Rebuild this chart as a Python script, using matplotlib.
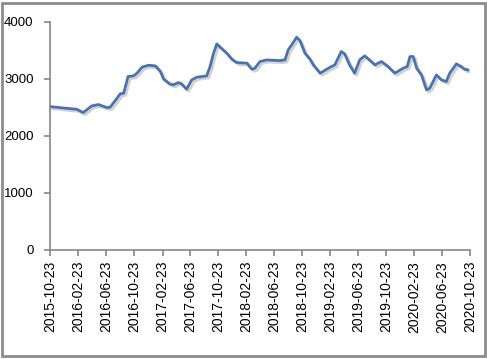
import pandas as pd
import matplotlib.pyplot as plt
import matplotlib.dates as mdates
import matplotlib.patheffects as pe
from matplotlib.patches import Rectangle

# values
dates = ["2015-10-23", "2015-12-27", "2016-02-15", "2016-03-15", "2016-04-21",
         "2016-05-20", "2016-06-26", "2016-07-10", "2016-08-09", "2016-08-23",
         "2016-09-07", "2016-09-26", "2016-10-20", "2016-11-04", "2016-11-26",
         "2016-12-24", "2017-01-23", "2017-02-14", "2017-02-28", "2017-03-27",
         "2017-04-10", "2017-05-03", "2017-05-17", "2017-06-08", "2017-06-30",
         "2017-07-22", "2017-09-03", "2017-09-18", "2017-10-03", "2017-10-17",
         "2017-11-01", "2017-11-30", "2017-12-22", "2018-01-12", "2018-02-26",
         "2018-03-18", "2018-04-01", "2018-04-23", "2018-05-22", "2018-07-19",
         "2018-08-10", "2018-08-24", "2018-09-08", "2018-09-30", "2018-10-14",
         "2018-11-05", "2018-11-27", "2018-12-11", "2019-01-10", "2019-02-08",
         "2019-02-23", "2019-03-15", "2019-04-12", "2019-04-27", "2019-05-18",
         "2019-06-09", "2019-07-01", "2019-07-23", "2019-08-21", "2019-09-05",
         "2019-10-04", "2019-11-02", "2019-12-01", "2020-01-06", "2020-01-24",
         "2020-02-05", "2020-02-19", "2020-03-05", "2020-03-26", "2020-04-17",
         "2020-05-01", "2020-05-30", "2020-06-21", "2020-07-12", "2020-07-27",
         "2020-08-25", "2020-09-15", "2020-09-30", "2020-10-14"]
values = [2514, 2486, 2468, 2409, 2526,
          2550, 2497, 2503, 2661, 2737,
          2749, 3041, 3053, 3100, 3205,
          3240, 3228, 3128, 2995, 2912,
          2895, 2935, 2912, 2819, 2982,
          3029, 3053, 3216, 3450, 3614,
          3556, 3450, 3345, 3287, 3275,
          3170, 3187, 3304, 3333, 3321,
          3333, 3509, 3596, 3731, 3672,
          3450, 3345, 3246, 3100, 3170,
          3205, 3246, 3480, 3439, 3246,
          3100, 3333, 3404, 3304, 3246,
          3304, 3216, 3100, 3187, 3216,
          3392, 3392, 3187, 3070, 2807,
          2836, 3070, 2982, 2953, 3100,
          3263, 3216, 3170, 3158]
tick_dates = pd.date_range("2015-10-23", "2020-10-23", freq=pd.DateOffset(months=4))
y_ticks = [0, 1000, 2000, 3000, 4000]

plt.rcParams['font.family'] = ['Liberation Sans', 'DejaVu Sans']

fig = plt.figure(figsize=(4.87, 3.59), dpi=100)
ax = fig.add_axes([0.103, 0.304, 0.862, 0.635])

ax.plot(pd.to_datetime(dates), values, color="#4a72b0", linewidth=2,
        path_effects=[pe.SimpleLineShadow(offset=(1.5, -1.5), shadow_color="gray", alpha=0.35),
                      pe.Normal()])

ax.set_xlim(pd.Timestamp("2015-10-23"), pd.Timestamp("2020-10-23"))
ax.set_ylim(0, 4000)
ax.set_yticks(y_ticks)
ax.set_xticks(tick_dates)
ax.xaxis.set_major_formatter(mdates.DateFormatter("%Y-%m-%d"))
plt.setp(ax.get_xticklabels(), rotation=90)

for s in ["top", "right"]:
    ax.spines[s].set_visible(False)
for s in ["left", "bottom"]:
    ax.spines[s].set_color("#868686")
    ax.spines[s].set_linewidth(1.2)
ax.tick_params(axis="both", colors="#868686", length=4, width=1.2, labelcolor="black")
ax.tick_params(axis="x", labelsize=10, pad=4)
ax.tick_params(axis="y", labelsize=9.5, pad=8)

# grey frame round the whole picture
fig.patches.append(Rectangle((0.005, 0.007), 0.99, 0.985, transform=fig.transFigure,
                             fill=False, edgecolor="#8c8c8c", linewidth=2))

plt.savefig("out.png", dpi=100)
